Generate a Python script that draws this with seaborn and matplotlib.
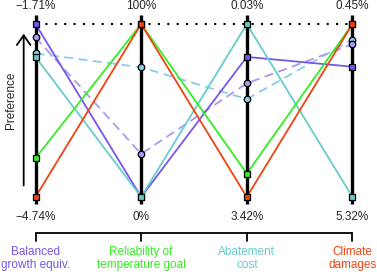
import numpy as np
import pandas as pd
import seaborn as sns
import matplotlib.pyplot as plt

sns.set_style("white")
plt.rcParams['font.family'] = ['Liberation Sans', 'DejaVu Sans']

# objectives (axes) and their colours
objectives = ["Balanced\ngrowth equiv.", "Reliability of\ntemperature goal",
              "Abatement\ncost", "Climate\ndamages"]
obj_colors = ["#7755ee", "#33ee22", "#66cccc", "#ee4411"]
top_labels = ["\u22121.71%", "100%", "0.03%", "0.45%"]
bottom_labels = ["\u22124.74%", "0%", "3.42%", "5.32%"]

# normalised preference (1 = best, top) of each solution on each axis
purple = [1.0, 0.0, 0.81, 0.753]
teal = [0.81, 0.0, 1.0, 0.0]
green = [0.225, 1.0, 0.135, 1.0]
orange = [0.0, 1.0, 0.0, 1.0]
sky_dash = [0.83, 0.75, 0.566, 0.91]
lav_dash = [0.923, 0.249, 0.657, 0.883]
ideal = [1.0, 1.0, 1.0, 1.0]

solid = [(purple, "#7755ee"), (teal, "#66cccc"), (green, "#33ee22"), (orange, "#ee4411")]
dashed = [(sky_dash, "#88ccee"), (lav_dash, "#aa99ee")]

xs = np.arange(len(objectives))

fig = plt.figure(figsize=(3.77, 2.76), dpi=100)
ax = fig.add_axes([0, 0, 1, 1])
ax.set_xlim(-0.336, 3.232)
ax.set_ylim(-0.457, 1.139)
ax.axis("off")

# ideal point dotted line
sns.lineplot(x=xs, y=ideal, ax=ax, color="black", lw=1.5, zorder=1)
ax.lines[-1].set_linestyle((0, (1, 3.5)))

for vals, c in dashed:
    df = pd.DataFrame({"x": xs, "y": vals})
    sns.lineplot(data=df, x="x", y="y", ax=ax, color=c, lw=1.3, zorder=2)
    ax.lines[-1].set_linestyle((0, (5, 3)))
for vals, c in solid:
    df = pd.DataFrame({"x": xs, "y": vals})
    sns.lineplot(data=df, x="x", y="y", ax=ax, color=c, lw=1.3, zorder=2)

# vertical axes
for x in xs:
    ax.plot([x, x], [-0.04, 1.05], color="black", lw=2.4, zorder=3, solid_capstyle="butt")

for vals, c in dashed:
    sns.scatterplot(x=xs, y=vals, ax=ax, color=c, marker="o", s=22,
                    edgecolor="black", linewidth=0.9, zorder=4)
for vals, c in solid:
    sns.scatterplot(x=xs, y=vals, ax=ax, color=c, marker="s", s=16,
                    edgecolor="black", linewidth=0.9, zorder=5)

# value labels
for x, t, b in zip(xs, top_labels, bottom_labels):
    ax.text(x, 1.103, t, ha="center", va="center", fontsize=8.5)
    ax.text(x, -0.115, b, ha="center", va="center", fontsize=8.5)

# bracket with objective names
ax.plot([0, 3], [-0.21, -0.21], color="black", lw=1.3)
for x, name, c in zip(xs, objectives, obj_colors):
    ax.plot([x, x], [-0.21, -0.255], color="black", lw=1.3)
    ax.text(x, -0.355, name, ha="center", va="center", fontsize=8.5,
            color=c, linespacing=1.1)

# preference arrow
ax.annotate("", xy=(-0.112, 0.96), xytext=(-0.112, 0.05),
            arrowprops=dict(arrowstyle="->,head_length=0.5,head_width=0.35",
                            color="black", lw=1.3, mutation_scale=14))
ax.text(-0.232, 0.56, "Preference", rotation=90, ha="center", va="center",
        fontsize=8.5)

fig.savefig("out.png", dpi=100)
